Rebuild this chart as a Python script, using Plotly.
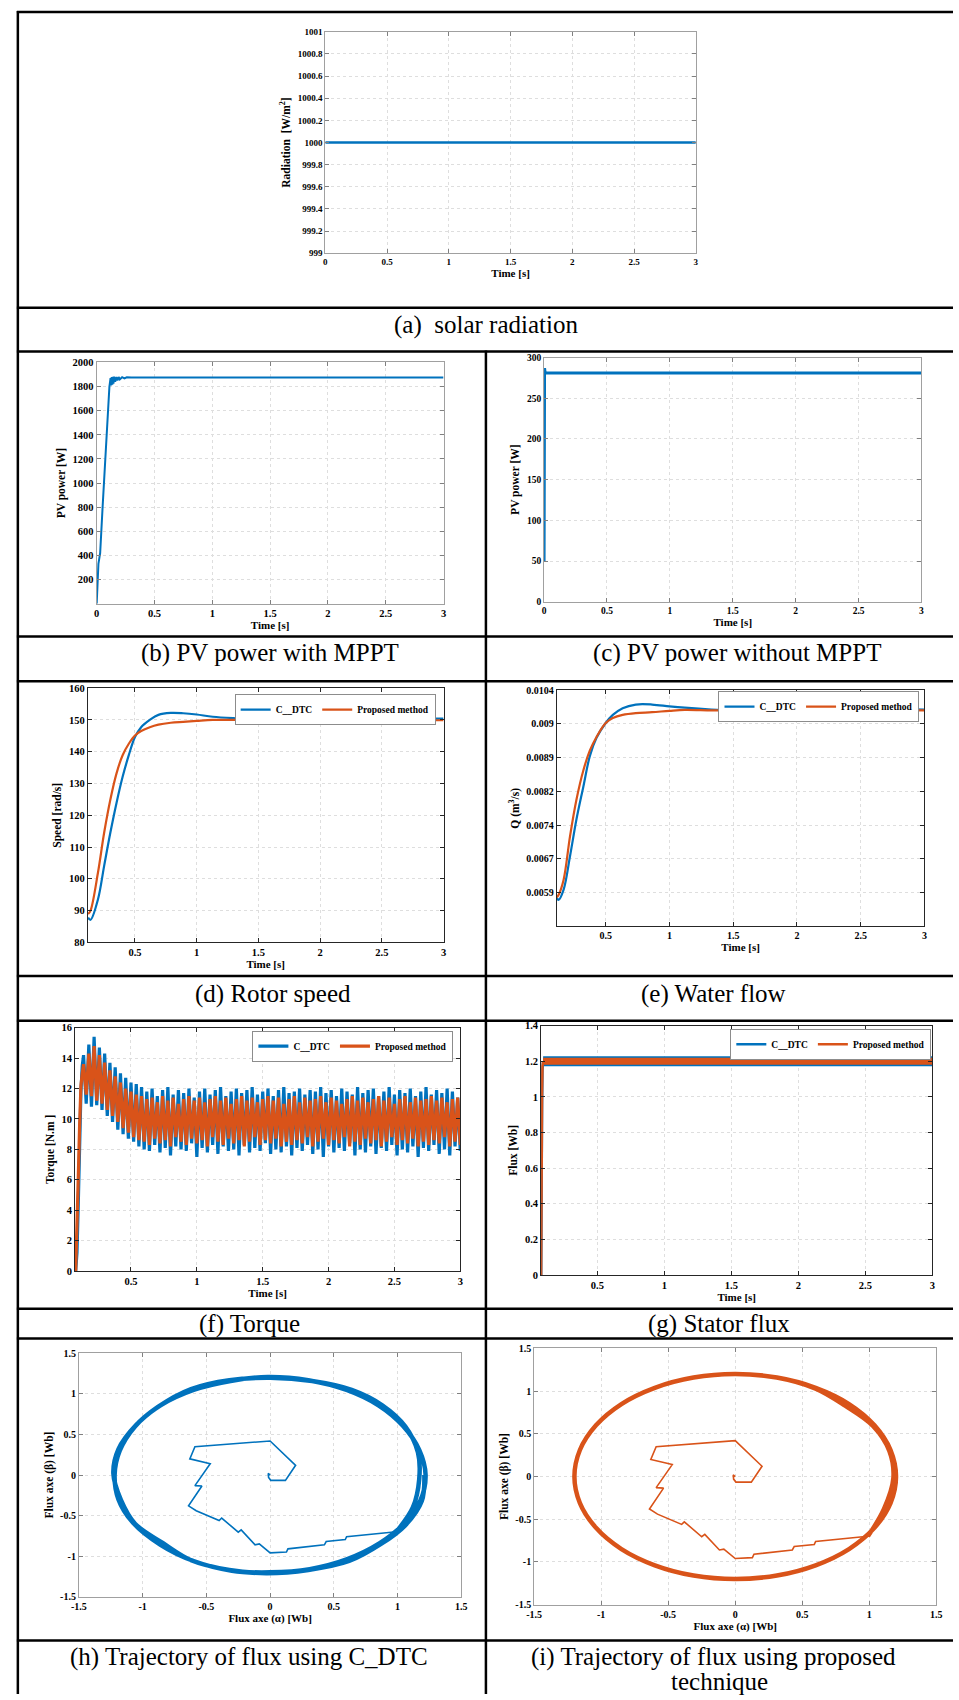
import plotly.graph_objects as go

W, H = 959, 1700
BLUE = "#0072BD"
ORANGE = "#D95319"
SERIF = "Liberation Serif, Times New Roman, serif"

# ---------------- data ----------------
# (a) solar radiation
rad_t = [0.0, 3.0]
rad_val = [1000.0, 1000.0]

# (b) PV power with MPPT
pv_mppt_t = [0.0, 0.005, 0.015, 0.025, 0.03, 0.05, 0.07, 0.09, 0.11, 0.12, 0.125, 0.13, 0.135,
             0.14, 0.145, 0.15, 0.16, 0.17, 0.18, 0.19, 0.20, 0.22, 0.24, 0.26, 0.30, 3.0]
pv_mppt = [0, 120, 330, 390, 420, 780, 1130, 1480, 1800, 1870, 1810, 1880, 1815,
           1882, 1825, 1882, 1840, 1880, 1850, 1880, 1860, 1878, 1868, 1877, 1875, 1875]

# (c) PV power without MPPT
pv_nompt_t = [0.0, 0.004, 0.007, 0.012, 3.0]
pv_nompt = [50, 287, 283, 281, 281]

# (d) rotor speed
speed_t = [0.12, 0.14, 0.20, 0.25, 0.30, 0.35, 0.40, 0.45, 0.50, 0.55, 0.62, 0.69, 0.79, 0.89,
           1.0, 1.13, 1.33, 1.5, 2.0, 2.5, 3.0]
speed_dtc = [87.8, 87.1, 93.5, 104.0, 114.4, 123.8, 132.1, 138.9, 144.6, 147.7, 150.0, 151.6,
             152.2, 152.1, 151.7, 151.0, 150.5, 150.2, 150.1, 150.3, 150.4]
speed_prop = [88.9, 90.0, 101.9, 114.4, 124.8, 133.1, 138.9, 142.5, 145.1, 146.5, 147.7, 148.5,
              149.1, 149.4, 149.7, 150.0, 150.0, 150.0, 150.0, 149.9, 149.9]

# (e) water flow
flow_t = [0.117, 0.13, 0.17, 0.22, 0.27, 0.325, 0.376, 0.428, 0.5, 0.556, 0.633, 0.736, 0.864,
          1.0, 1.12, 1.33, 1.5, 1.84, 2.23, 2.41, 2.62, 3.0]
flow_dtc = [0.00579, 0.00574, 0.00597, 0.00671, 0.00752, 0.00826, 0.00894, 0.00934, 0.00967,
            0.00985, 0.01000, 0.01008, 0.01008, 0.01004, 0.01001, 0.00997, 0.00995, 0.00994,
            0.00995, 0.00995, 0.00998, 0.00997]
flow_prop = [0.00580, 0.00585, 0.00619, 0.00715, 0.00796, 0.00862, 0.00906, 0.00936, 0.00967,
             0.00978, 0.00985, 0.00989, 0.00991, 0.00994, 0.00996, 0.00995, 0.00995, 0.00996,
             0.00995, 0.00996, 0.00996, 0.00995]

# (f) torque: start-up samples then ripple samples every 0.02 s from 0.14 s to 3.00 s
torque_rise_t = [0.08, 0.09, 0.10, 0.11, 0.12, 0.13]
torque_rise_dtc = [0.0, 1.2, 4.5, 8.5, 11.8, 13.5]
torque_rise_prop = [0.0, 2.5, 6.2, 9.6, 12.2, 13.0]
torque_ripple_start, torque_ripple_step = 0.14, 0.02
torque_dtc = [
    14.2, 11.0, 14.9, 10.8, 15.4, 10.9, 14.7, 10.6, 14.3, 10.2,
    13.7, 9.8, 13.4, 9.3, 13.0, 9.0, 12.7, 8.7, 12.4, 8.5,
    12.3, 8.2, 12.1,
    8.0, 11.8, 7.9, 12.0, 8.3, 11.5, 7.8, 11.9, 8.1, 12.1,
    7.6, 11.6, 8.2, 11.9, 8.0, 11.7, 7.9, 12.0, 8.4, 11.4,
    7.5, 11.8, 8.1, 12.0, 7.8, 11.6, 8.3, 11.9, 7.7, 12.1,
    8.2, 11.5, 7.9, 11.8, 8.0, 12.0, 7.6, 11.7, 8.3, 11.9,
    7.8, 12.1, 8.1, 11.6, 7.9, 11.8, 8.4, 12.0, 7.7, 11.5,
    8.0, 11.9, 7.8, 12.1, 8.2, 11.7, 7.6, 11.8, 8.1, 12.0,
    7.9, 11.6, 8.3, 11.9, 7.7, 11.8, 8.0, 12.1, 7.5, 11.7,
    8.2, 11.9, 7.8, 11.5, 8.1, 12.0, 7.9, 11.8, 8.4, 11.6,
    7.6, 12.1, 8.0, 11.7, 7.8, 11.9, 8.2, 12.0, 7.7, 11.5,
    8.1, 11.8, 7.9, 12.1, 8.3, 11.6, 7.6, 11.9, 8.0, 11.7,
    7.8, 12.0, 8.2, 11.5, 7.5, 11.8, 8.1, 12.1, 7.9, 11.6,
    8.3, 11.9, 7.7, 11.7, 8.0, 12.0, 7.6, 11.8, 8.2, 11.4,
    7.9]
torque_prop = [
    13.6, 11.6, 14.3, 11.5, 14.8, 11.2, 14.2, 11.0, 13.7, 10.6,
    13.2, 10.2, 12.8, 9.8, 12.4, 9.4, 12.0, 9.1, 11.8, 8.8,
    11.6, 8.6, 11.5,
    8.5, 11.3, 8.3, 11.4, 8.7, 11.1, 8.4, 11.5, 8.6, 11.2,
    8.2, 11.4, 8.8, 11.0, 8.5, 11.3, 8.3, 11.5, 8.7, 11.2,
    8.4, 11.4, 8.6, 11.1, 8.2, 11.3, 8.8, 11.5, 8.5, 11.2,
    8.3, 11.4, 8.7, 11.0, 8.4, 11.3, 8.6, 11.5, 8.2, 11.2,
    8.5, 11.4, 8.8, 11.1, 8.3, 11.3, 8.6, 11.5, 8.4, 11.2,
    8.7, 11.4, 8.2, 11.0, 8.5, 11.3, 8.3, 11.5, 8.6, 11.1,
    8.4, 11.4, 8.8, 11.2, 8.2, 11.3, 8.5, 11.5, 8.7, 11.1,
    8.3, 11.4, 8.6, 11.2, 8.4, 11.0, 8.8, 11.3, 8.2, 11.5,
    8.5, 11.2, 8.3, 11.4, 8.7, 11.1, 8.4, 11.3, 8.6, 11.5,
    8.2, 11.2, 8.5, 11.4, 8.8, 11.0, 8.3, 11.3, 8.6, 11.5,
    8.4, 11.1, 8.7, 11.4, 8.2, 11.2, 8.5, 11.3, 8.3, 11.5,
    8.6, 11.2, 8.4, 11.4, 8.8, 11.1, 8.2, 11.3, 8.5, 11.4,
    8.3]

# (g) stator flux
flux_rise_t = [0.08, 0.081, 0.083, 0.085, 0.087, 0.09, 0.095]
flux_rise_dtc = [0.0, 0.45, 0.68, 0.85, 0.97, 1.15, 1.20]
flux_rise_prop = [0.0, 0.50, 0.70, 0.90, 1.02, 1.17, 1.20]
flux_plateau_t = [0.095, 3.0]
flux_plateau_dtc = [1.20, 1.20]
flux_plateau_prop = [1.20, 1.20]

# (h), (i) flux trajectories: start-up path (shared shape) then steady laps
traj_start_alpha = [0.0, -0.015, -0.012, 0.005, 0.12, 0.20, 0.0, -0.59, -0.63, -0.47, -0.59,
                    -0.535, -0.64, -0.58, -0.40, -0.38, -0.25, -0.227, -0.118, -0.085, 0.0,
                    0.128, 0.14, 0.426, 0.44, 0.59, 0.60, 0.99]
traj_start_beta = [0.0, 0.02, -0.03, -0.065, -0.065, 0.12, 0.42, 0.35, 0.20, 0.14, -0.13,
                   -0.135, -0.38, -0.44, -0.56, -0.53, -0.705, -0.677, -0.86, -0.85, -0.96,
                   -0.95, -0.91, -0.86, -0.82, -0.795, -0.76, -0.70]
traj_dtc_alpha = [0.99, 1.12, 1.17, 1.16, 1.06, 0.88, 0.64, 0.33, 0.0, -0.32, -0.62, -0.88,
                  -1.06, -1.18, -1.22, -1.19, -1.08, -0.86, -0.60, -0.30, 0.0, 0.31, 0.60, 0.86,
                  1.05, 1.18, 1.22, 1.17, 1.04, 0.85, 0.60, 0.30, -0.02, -0.31, -0.60, -0.86,
                  -1.05, -1.19, -1.23, -1.17, -1.06, -0.84, -0.62, -0.32, -0.03, 0.30, 0.62,
                  0.87, 1.06, 1.19, 1.21]
traj_dtc_beta = [-0.70, -0.40, -0.05, 0.28, 0.60, 0.86, 1.05, 1.16, 1.20, 1.17, 1.06, 0.84,
                 0.60, 0.30, 0.0, -0.30, -0.58, -0.86, -1.06, -1.18, -1.20, -1.16, -1.04, -0.84,
                 -0.60, -0.31, 0.0, 0.31, 0.61, 0.86, 1.05, 1.17, 1.21, 1.16, 1.05, 0.86, 0.62,
                 0.32, 0.02, -0.31, -0.60, -0.84, -1.05, -1.17, -1.21, -1.17, -1.06, -0.85,
                 -0.62, -0.32, 0.0]
traj_prop_alpha = [0.99, 1.11, 1.18, 1.15, 1.03, 0.82, 0.60, 0.31, 0.0, -0.311, -0.6, -0.849,
                   -1.039, -1.159, -1.2, -1.159, -1.039, -0.849, -0.6, -0.311, 0.0, 0.311, 0.6,
                   0.849, 1.039, 1.159, 1.2, 1.159, 1.039, 0.849, 0.6, 0.311, 0.0, -0.311, -0.6,
                   -0.849, -1.039, -1.159, -1.2, -1.159, -1.039, -0.849, -0.6, -0.311, 0.0,
                   0.311, 0.6, 0.849, 1.039, 1.159, 1.2]
traj_prop_beta = [-0.70, -0.38, -0.02, 0.30, 0.59, 0.83, 1.03, 1.16, 1.20, 1.159, 1.039, 0.849,
                  0.6, 0.311, 0.0, -0.311, -0.6, -0.849, -1.039, -1.159, -1.2, -1.159, -1.039,
                  -0.849, -0.6, -0.311, 0.0, 0.311, 0.6, 0.849, 1.039, 1.159, 1.2, 1.159, 1.039,
                  0.849, 0.6, 0.311, 0.0, -0.311, -0.6, -0.849, -1.039, -1.159, -1.2, -1.159,
                  -1.039, -0.849, -0.6, -0.311, 0.0]

# tick labels
time_ticks_full = [0, 0.5, 1, 1.5, 2, 2.5, 3]
time_text_full = ["0", "0.5", "1", "1.5", "2", "2.5", "3"]
time_ticks_late = [0.5, 1, 1.5, 2, 2.5, 3]
time_text_late = ["0.5", "1", "1.5", "2", "2.5", "3"]
rad_ticks = [999, 999.2, 999.4, 999.6, 999.8, 1000, 1000.2, 1000.4, 1000.6, 1000.8, 1001]
rad_text = ["999", "999.2", "999.4", "999.6", "999.8", "1000", "1000.2", "1000.4", "1000.6", "1000.8", "1001"]
pvm_ticks = [200, 400, 600, 800, 1000, 1200, 1400, 1600, 1800, 2000]
pvm_text = ["200", "400", "600", "800", "1000", "1200", "1400", "1600", "1800", "2000"]
pvn_ticks = [0, 50, 100, 150, 200, 250, 300]
pvn_text = ["0", "50", "100", "150", "200", "250", "300"]
speed_ticks = [80, 90, 100, 110, 120, 130, 140, 150, 160]
speed_text = ["80", "90", "100", "110", "120", "130", "140", "150", "160"]
flow_ticks = [0.0059, 0.00665, 0.0074, 0.00815, 0.0089, 0.00965, 0.0104]
flow_text = ["0.0059", "0.0067", "0.0074", "0.0082", "0.0089", "0.009", "0.0104"]
torque_ticks = [0, 2, 4, 6, 8, 10, 12, 14, 16]
torque_text = ["0", "2", "4", "6", "8", "10", "12", "14", "16"]
flux_ticks = [0, 0.2, 0.4, 0.6, 0.8, 1, 1.2, 1.4]
flux_text = ["0", "0.2", "0.4", "0.6", "0.8", "1", "1.2", "1.4"]
traj_ticks = [-1.5, -1, -0.5, 0, 0.5, 1, 1.5]
traj_text = ["-1.5", "-1", "-0.5", "0", "0.5", "1", "1.5"]

torque_t = torque_rise_t + [round(torque_ripple_start + torque_ripple_step * k, 3)
                            for k in range(len(torque_dtc))]
torque_dtc_all = torque_rise_dtc + torque_dtc
torque_prop_all = torque_rise_prop + torque_prop

# ---------------- figure ----------------
fig = go.Figure()


def ax_ids(n):
    return ("x" if n == 1 else f"x{n}"), ("y" if n == 1 else f"y{n}")


def line(n, x, y, color, width, name=None, legend=None, shape="linear", show=False):
    xa, ya = ax_ids(n)
    fig.add_trace(go.Scatter(
        x=x, y=y, mode="lines", xaxis=xa, yaxis=ya, name=name,
        line=dict(color=color, width=width, shape=shape),
        showlegend=show, legend=legend, hoverinfo="skip"))


# (a)
line(1, rad_t, rad_val, BLUE, 2.5)
# (b)
line(2, pv_mppt_t, pv_mppt, BLUE, 2)
# (c)
line(3, pv_nompt_t, pv_nompt, BLUE, 3)
# (d)
line(4, speed_t, speed_dtc, BLUE, 2.2, "C__DTC", "legend", "spline", True)
line(4, speed_t, speed_prop, ORANGE, 2.2, "Proposed method", "legend", "spline", True)
# (e)
line(5, flow_t, flow_dtc, BLUE, 2.2, "C__DTC", "legend2", "spline", True)
line(5, flow_t, flow_prop, ORANGE, 2.2, "Proposed method", "legend2", "spline", True)
# (f)
line(6, torque_t, torque_dtc_all, BLUE, 3.2, "C__DTC", "legend3", "linear", True)
line(6, torque_t, torque_prop_all, ORANGE, 3.2, "Proposed method", "legend3", "linear", True)
# (g)
line(7, flux_plateau_t, flux_plateau_dtc, BLUE, 10)
line(7, flux_rise_t, flux_rise_dtc, BLUE, 2.6, "C__DTC", "legend4", "linear", True)
line(7, flux_plateau_t, flux_plateau_prop, ORANGE, 7)
line(7, flux_rise_t, flux_rise_prop, ORANGE, 2.6, "Proposed method", "legend4", "linear", True)
# (h)
line(8, traj_start_alpha, traj_start_beta, BLUE, 1.6)
line(8, traj_dtc_alpha, traj_dtc_beta, BLUE, 4.5, shape="spline")
# (i)
line(9, traj_start_alpha, traj_start_beta, ORANGE, 1.6)
line(9, traj_prop_alpha, traj_prop_beta, ORANGE, 4.5, shape="spline")

# ---------------- axes ----------------
panels = [
    # n, x px, y px, xrange, yrange, xt, xtt, yt, ytt, xtitle, ytitle, dark, tick size
    (1, (322, 698), (26, 249), [0, 3], [999, 1001], time_ticks_full, time_text_full,
     rad_ticks, rad_text, "Time [s]", "Radiation\u00a0\u00a0[W/m<sup>2</sup>]", False, 9),
    (2, (90, 442), (359, 602), [0, 3], [0, 2000], time_ticks_full, time_text_full,
     pvm_ticks, pvm_text, "Time [s]", "PV power [W]", False, 10.5),
    (3, (544, 927), (354, 600), [0, 3], [0, 300], time_ticks_full, time_text_full,
     pvn_ticks, pvn_text, "Time [s]", "PV power [W]", False, 9.5),
    (4, (81, 442), (687, 943), [0.118, 3], [80, 160], time_ticks_late, time_text_late,
     speed_ticks, speed_text, "Time [s]", "Speed [rad/s]", True, 10.5),
    (5, (557, 930), (689, 927), [0.117, 3], [0.00515, 0.0104], time_ticks_late, time_text_late,
     flow_ticks, flow_text, "Time [s]", "Q (m<sup>3</sup>/s)", True, 10),
    (6, (68, 459), (1029, 1274), [0.075, 3], [0, 16], time_ticks_late, time_text_late,
     torque_ticks, torque_text, "Time [s]", "Torque [N.m ]", True, 10.5),
    (7, (541, 938), (1027, 1278), [0.08, 3], [0, 1.4], time_ticks_late, time_text_late,
     flux_ticks, flux_text, "Time [s]", "Flux [Wb]", True, 10.5),
    (8, (72, 460), (1357, 1602), [-1.5, 1.5], [-1.5, 1.5], traj_ticks, traj_text,
     traj_ticks, traj_text, "Flux axe (\u03b1) [Wb]", "Flux axe (\u03b2) [Wb]", False, 10),
    (9, (534, 942), (1352, 1610), [-1.5, 1.5], [-1.5, 1.5], traj_ticks, traj_text,
     traj_ticks, traj_text, "Flux axe (\u03b1) [Wb]", "Flux axe (\u03b2) [Wb]", False, 10),
]

layout = dict(
    width=W, height=H, margin=dict(l=0, r=0, t=0, b=0),
    paper_bgcolor="white", plot_bgcolor="white",
    font=dict(family=SERIF, color="black"),
)

for (n, xp, yp, xr, yr, xt, xtt, yt, ytt, xtitle, ytitle, dark, tsize) in panels:
    col = "#262626" if dark else "#a0a0a0"
    common = dict(
        showline=True, linecolor=col, linewidth=1, mirror="ticks",
        ticks="inside", ticklen=4, tickcolor="#262626" if dark else "#808080",
        showgrid=True, gridcolor="#dedede", griddash="dot", gridwidth=1,
        zeroline=False, fixedrange=True,
        tickfont=dict(family=SERIF, size=tsize, color="black", weight="bold"),
    )
    xname = "xaxis" if n == 1 else f"xaxis{n}"
    yname = "yaxis" if n == 1 else f"yaxis{n}"
    xa, ya = ax_ids(n)
    layout[xname] = dict(
        domain=[xp[0] / W, xp[1] / W], anchor=ya, range=xr,
        tickvals=xt, ticktext=xtt,
        title=dict(text=xtitle, standoff=2,
                   font=dict(family=SERIF, size=11, color="black", weight="bold")),
        **common)
    layout[yname] = dict(
        domain=[1 - yp[1] / H, 1 - yp[0] / H], anchor=xa, range=yr,
        tickvals=yt, ticktext=ytt,
        title=dict(text=ytitle, standoff=4,
                   font=dict(family=SERIF, size=11.5, color="black", weight="bold")),
        **common)

legend_style = dict(
    orientation="h", xanchor="right", yanchor="top", bgcolor="white",
    bordercolor="#8c8c8c", borderwidth=1, itemwidth=30, tracegroupgap=0,
    font=dict(family=SERIF, size=9.5, color="black", weight="bold"),
)
layout["legend"] = dict(x=434 / W, y=1 - 693 / H, **legend_style)
layout["legend2"] = dict(x=925 / W, y=1 - 690 / H, **legend_style)
layout["legend3"] = dict(x=452 / W, y=1 - 1032 / H, **legend_style)
layout["legend4"] = dict(x=937 / W, y=1 - 1030 / H, **legend_style)

# table frame
shapes = []


def hline(ypx, x0=9, x1=959):
    shapes.append(dict(type="line", xref="paper", yref="paper", x0=x0 / W, x1=x1 / W,
                       y0=1 - ypx / H, y1=1 - ypx / H, line=dict(color="black", width=2.5)))


def vline(xpx, y0, y1):
    shapes.append(dict(type="line", xref="paper", yref="paper", x0=xpx / W, x1=xpx / W,
                       y0=1 - y0 / H, y1=1 - y1 / H, line=dict(color="black", width=2.5)))


for ypx in [6, 304, 348, 635, 680, 977, 1022, 1312, 1342, 1646]:
    hline(ypx)
vline(10, 5, 1700)
vline(485, 347, 1700)
layout["shapes"] = shapes

captions = [
    ("(a)\u00a0\u00a0solar radiation", 485, 321),
    ("(b) PV power with MPPT", 266, 652),
    ("(c) PV power without MPPT", 740, 652),
    ("(d) Rotor speed", 269, 995),
    ("(e) Water flow", 716, 995),
    ("(f) Torque", 245, 1327),
    ("(g) Stator flux", 722, 1327),
    ("(h) Trajectory of flux using C_DTC", 245, 1663),
    ("(i) Trajectory of flux using proposed", 716, 1663),
    ("technique", 722, 1687),
]
layout["annotations"] = [
    dict(text=t, x=cx / W, y=1 - cy / H, xref="paper", yref="paper", showarrow=False,
         xanchor="center", yanchor="middle",
         font=dict(family=SERIF, size=25, color="black"))
    for (t, cx, cy) in captions
]

fig.update_layout(**layout)
fig.write_html(
    "out.html",
    config={"displayModeBar": False, "responsive": False},
    post_script=("document.documentElement.style.overflow='hidden';"
                 "document.body.style.margin='0';document.body.style.overflow='hidden';"),
)
